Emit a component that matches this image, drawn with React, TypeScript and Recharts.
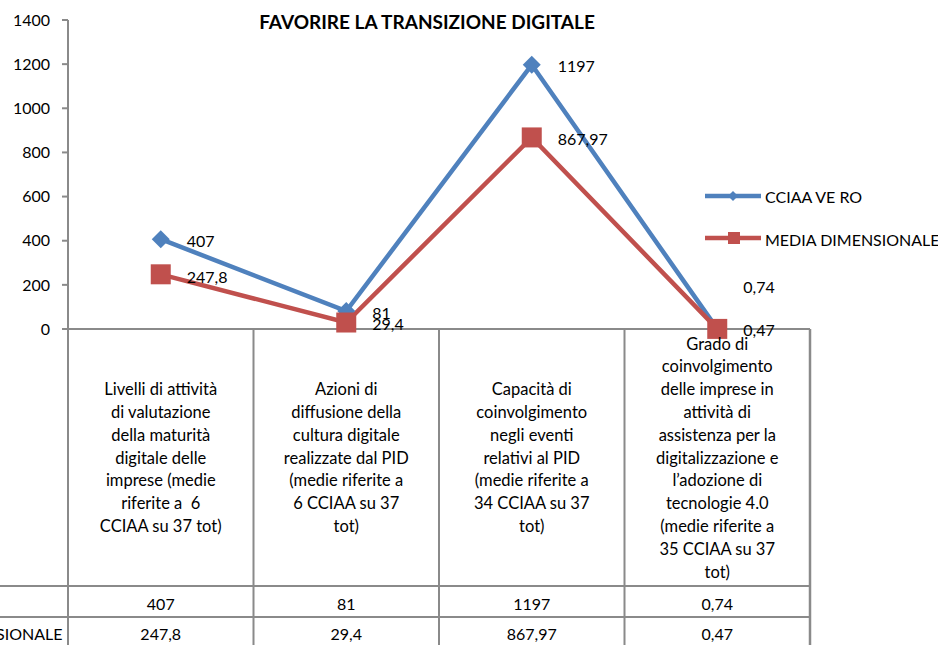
import { LineChart, Line, XAxis, YAxis, Legend, LabelList, Customized } from 'recharts';

// categories (ids) and the wrapped text shown in the data table header
const categories = ['cat1', 'cat2', 'cat3', 'cat4'];
const categoryLines = [
  ['Livelli di attività', 'di valutazione', 'della maturità', 'digitale delle', 'imprese (medie', 'riferite a \u00a06', 'CCIAA su 37 tot)'],
  ['Azioni di', 'diffusione della', 'cultura digitale', 'realizzate dal PID', '(medie riferite a', '6 CCIAA su 37', 'tot)'],
  ['Capacità di', 'coinvolgimento', 'negli eventi', 'relativi al PID', '(medie riferite a', '34 CCIAA su 37', 'tot)'],
  ['Grado di', 'coinvolgimento', 'delle imprese in', 'attività di', 'assistenza per la', 'digitalizzazione e', 'l’adozione di', 'tecnologie 4.0', '(medie riferite a', '35 CCIAA su 37', 'tot)'],
];

const seriesNames = ['CCIAA VE RO', 'MEDIA DIMENSIONALE'];
const cciaaValues = [407, 81, 1197, 0.74];
const mediaValues = [247.8, 29.4, 867.97, 0.47];
const yTicks = [0, 200, 400, 600, 800, 1000, 1200, 1400];

const BLUE = '#4F81BD';
const RED = '#C0504D';
const GRID = '#8a8a8a';
const FONT = 'Lato, "Noto Sans", sans-serif';

const W = 938;
const H = 645;
const MARGIN = { top: 20, right: 128, bottom: 0, left: 8 };
const Y_AXIS_W = 60;
const PLOT_W = W - MARGIN.left - Y_AXIS_W - MARGIN.right;
const COL_W = PLOT_W / categories.length;

const data = categories.map((c, i) => ({
  cat: c,
  cciaa: cciaaValues[i],
  media: mediaValues[i],
}));

const fmt = (v: number) => String(v).replace('.', ',');

// manual nudges for a couple of labels (Excel had them dragged)
const cciaaLabelDy = [1, 1, 1, -42];
const mediaLabelDy = [2, 1, 1, 1];

function makeLabel(dys: number[]) {
  return (props: any) => {
    const x = props.x ?? props.viewBox?.x;
    const y = props.y ?? props.viewBox?.y;
    const i = props.index ?? 0;
    return (
      <text x={x + 26} y={y + dys[i]} dominantBaseline="central" fontSize={16} fontFamily={FONT} fill="#000">
        {fmt(props.value)}
      </text>
    );
  };
}

function Diamond(props: any) {
  const { cx, cy } = props;
  if (cx == null || cy == null) return null;
  const r = 9;
  return <polygon points={`${cx},${cy - r} ${cx + r},${cy} ${cx},${cy + r} ${cx - r},${cy}`} fill={BLUE} />;
}

function Square(props: any) {
  const { cx, cy } = props;
  if (cx == null || cy == null) return null;
  return <rect x={cx - 10} y={cy - 10} width={20} height={20} fill={RED} />;
}

function TableTick(props: any) {
  const { x, y, index } = props;
  const left = x - COL_W / 2;
  const lines = categoryLines[index] || [];
  const lineH = 22.8;
  const headerH = 257;
  const startY = y + headerH / 2 - ((lines.length - 1) * lineH) / 2;
  const last = index === categories.length - 1;
  return (
    <g>
      <line x1={left} x2={left} y1={y} y2={H + 10} stroke={GRID} strokeWidth={2} />
      {last && <line x1={left + COL_W} x2={left + COL_W} y1={y} y2={H + 10} stroke={GRID} strokeWidth={2.5} />}
      {index === 0 && (
        <g>
          <line x1={0} x2={left + COL_W * categories.length} y1={y + headerH} y2={y + headerH} stroke={GRID} strokeWidth={2} />
          <line x1={0} x2={left + COL_W * categories.length} y1={y + 288} y2={y + 288} stroke={GRID} strokeWidth={2} />
          <text x={-112} y={y + 274} dominantBaseline="central" fontSize={16} fontFamily={FONT} fill="#000">{seriesNames[0]}</text>
          <text x={-112} y={y + 304} dominantBaseline="central" fontSize={16} fontFamily={FONT} fill="#000">{seriesNames[1]}</text>
        </g>
      )}
      <text textAnchor="middle" fontSize={16.5} fontFamily={FONT} fill="#000">
        {lines.map((l: string, k: number) => (
          <tspan key={k} x={x} y={startY + k * lineH} dominantBaseline="central">{l}</tspan>
        ))}
      </text>
      <text x={x} y={y + 274} textAnchor="middle" dominantBaseline="central" fontSize={16} fontFamily={FONT} fill="#000">
        {fmt(cciaaValues[index])}
      </text>
      <text x={x} y={y + 304} textAnchor="middle" dominantBaseline="central" fontSize={16} fontFamily={FONT} fill="#000">
        {fmt(mediaValues[index])}
      </text>
    </g>
  );
}

function Title() {
  return (
    <text x={427} y={21} textAnchor="middle" dominantBaseline="central" fontSize={19} fontWeight="bold" fontFamily={FONT} fill="#000">
      FAVORIRE LA TRANSIZIONE DIGITALE
    </text>
  );
}

function LegendBox() {
  return (
    <svg width={238} height={80}>
      <line x1={5} x2={61} y1={16} y2={16} stroke={BLUE} strokeWidth={4.5} />
      <polygon points="33,11 38,16 33,21 28,16" fill={BLUE} />
      <text x={65} y={16} dominantBaseline="central" fontSize={16} fontFamily={FONT} fill="#000">{seriesNames[0]}</text>
      <line x1={5} x2={61} y1={58} y2={58} stroke={RED} strokeWidth={4.5} />
      <rect x={28} y={52} width={12} height={12} fill={RED} />
      <text x={65} y={59} dominantBaseline="central" fontSize={16} fontFamily={FONT} fill="#000">{seriesNames[1]}</text>
    </svg>
  );
}

export default function App() {
  return (
    <div style={{ position: 'absolute', left: 0, top: 0, width: W, height: H, background: '#fff', overflow: 'hidden' }}>
      <LineChart width={W} height={H} data={data} margin={MARGIN}>
        <XAxis
          dataKey="cat"
          height={316}
          padding={{ left: COL_W / 2, right: COL_W / 2 }}
          tickLine={false}
          tickSize={0}
          tickMargin={0}
          interval={0}
          axisLine={{ stroke: GRID, strokeWidth: 2 }}
          tick={<TableTick />}
        />
        <YAxis
          width={Y_AXIS_W}
          domain={[0, 1400]}
          ticks={yTicks}
          interval={0}
          tickSize={6}
          tickMargin={12}
          axisLine={{ stroke: GRID, strokeWidth: 2 }}
          tickLine={{ stroke: GRID, strokeWidth: 2 }}
          tick={{ fontSize: 16, fontFamily: FONT, fill: '#000' }}
        />
        <Legend
          layout="horizontal"
          verticalAlign="middle"
          align="center"
          wrapperStyle={{ left: 700, top: 180, width: 238, height: 80 }}
          content={() => <LegendBox />}
        />
        <Line
          type="linear"
          dataKey="cciaa"
          name={seriesNames[0]}
          stroke={BLUE}
          strokeWidth={4.5}
          dot={<Diamond />}
          activeDot={false}
          isAnimationActive={false}
        >
          <LabelList dataKey="cciaa" content={makeLabel(cciaaLabelDy)} />
        </Line>
        <Line
          type="linear"
          dataKey="media"
          name={seriesNames[1]}
          stroke={RED}
          strokeWidth={4.5}
          dot={<Square />}
          activeDot={false}
          isAnimationActive={false}
        >
          <LabelList dataKey="media" content={makeLabel(mediaLabelDy)} />
        </Line>
        <Customized component={Title} />
      </LineChart>
    </div>
  );
}
